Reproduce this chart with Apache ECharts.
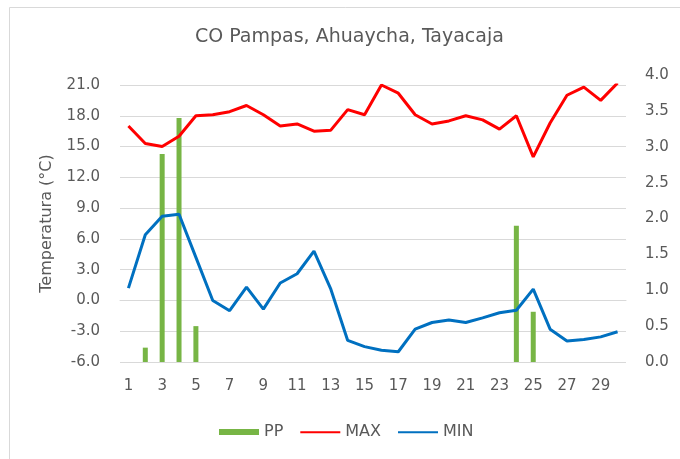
<!DOCTYPE html>
<html>
<head>
<meta charset="utf-8">
<script src="https://cdn.jsdelivr.net/npm/echarts@6/dist/echarts.min.js"></script>
<style>
html,body{margin:0;padding:0;background:#fff;}
#chart{width:680px;height:459px;}
</style>
</head>
<body>
<div id="chart"></div>
<script>
const days = ['1','2','3','4','5','6','7','8','9','10','11','12','13','14','15','16','17','18','19','20','21','22','23','24','25','26','27','28','29','30'];
const maxT = [17.0, 15.3, 15.0, 16.0, 18.0, 18.1, 18.4, 19.0, 18.1, 17.0, 17.2, 16.5, 16.6, 18.6, 18.1, 21.0, 20.2, 18.1, 17.2, 17.5, 18.0, 17.6, 16.7, 18.0, 14.0, 17.3, 20.0, 20.8, 19.5, 21.2];
const minT = [1.2, 6.4, 8.2, 8.4, 4.2, 0.0, -1.0, 1.3, -0.85, 1.7, 2.6, 4.8, 1.1, -3.9, -4.5, -4.85, -5.0, -2.8, -2.15, -1.9, -2.15, -1.7, -1.2, -0.95, 1.1, -2.8, -3.95, -3.8, -3.55, -3.05];
const pp = [0, 0.2, 2.9, 3.4, 0.5, 0, 0, 0, 0, 0, 0, 0, 0, 0, 0, 0, 0, 0, 0, 0, 0, 0, 0, 1.9, 0.7, 0, 0, 0, 0, 0];
const titleText = 'CO Pampas, Ahuaycha, Tayacaja';
const yName = 'Temperatura (°C)';

const FONT = 'DejaVu Sans';
const TXT = '#595959';
const LINE_ICON = 'path://M0,0L0.01,0L0,0.01Z M0,2.2H40V4.2H0Z M0,6L0.01,6L0,5.99Z';
const chart = echarts.init(document.getElementById('chart'));
chart.setOption({
  animation: false,
  backgroundColor: '#fff',
  textStyle: { fontFamily: FONT },
  graphic: [{
    type: 'rect', left: 7, top: 5, silent: true,
    shape: { width: 690, height: 452 },
    style: { fill: 'none', stroke: '#d9d9d9', lineWidth: 1 }
  }],
  title: {
    text: titleText, left: 190, top: 23,
    textStyle: { fontFamily: FONT, fontSize: 19, fontWeight: 'normal', color: TXT }
  },
  legend: {
    left: 214, top: 419, itemGap: 17, itemWidth: 40, itemHeight: 6,
    textStyle: { fontFamily: FONT, fontSize: 16, color: TXT },
    data: [
      { name: 'PP', icon: 'rect' },
      { name: 'MAX', icon: LINE_ICON },
      { name: 'MIN', icon: LINE_ICON }
    ]
  },
  grid: [
    { left: 120, right: 54, top: 85, bottom: 97 },
    { left: 120, right: 54, top: 75, bottom: 97 }
  ],
  xAxis: [
    { type: 'category', gridIndex: 0, data: days, boundaryGap: true,
      axisLine: { lineStyle: { color: '#d9d9d9', width: 1 } },
      axisTick: { show: false },
      axisLabel: { interval: 1, margin: 17, fontSize: 15, color: TXT, fontFamily: FONT } },
    { type: 'category', gridIndex: 1, data: days, boundaryGap: true, show: false }
  ],
  yAxis: [
    { type: 'value', gridIndex: 0, min: -6, max: 21, interval: 3,
      name: yName, nameLocation: 'middle', nameGap: 65, nameRotate: 90,
      nameTextStyle: { fontFamily: FONT, fontSize: 16, color: TXT },
      axisLine: { show: false }, axisTick: { show: false },
      axisLabel: { margin: 20, fontSize: 15, color: TXT, fontFamily: FONT, formatter: v => v.toFixed(1) },
      splitLine: { lineStyle: { color: '#d9d9d9', width: 1 } } },
    { type: 'value', gridIndex: 1, position: 'right', min: 0, max: 4, interval: 0.5,
      axisLine: { show: false }, axisTick: { show: false },
      axisLabel: { margin: 19, fontSize: 15, color: TXT, fontFamily: FONT, formatter: v => v.toFixed(1) },
      splitLine: { show: false } }
  ],
  series: [
    { name: 'PP', type: 'bar', xAxisIndex: 1, yAxisIndex: 1, data: pp, barWidth: 5,
      itemStyle: { color: '#77b545' }, z: 1 },
    { name: 'MAX', type: 'line', xAxisIndex: 0, yAxisIndex: 0, data: maxT, symbol: 'none',
      lineStyle: { color: '#ff0000', width: 3 }, itemStyle: { color: '#ff0000' }, z: 3 },
    { name: 'MIN', type: 'line', xAxisIndex: 0, yAxisIndex: 0, data: minT, symbol: 'none',
      lineStyle: { color: '#0070c0', width: 3 }, itemStyle: { color: '#0070c0' }, z: 3 }
  ]
});
</script>
</body>
</html>
